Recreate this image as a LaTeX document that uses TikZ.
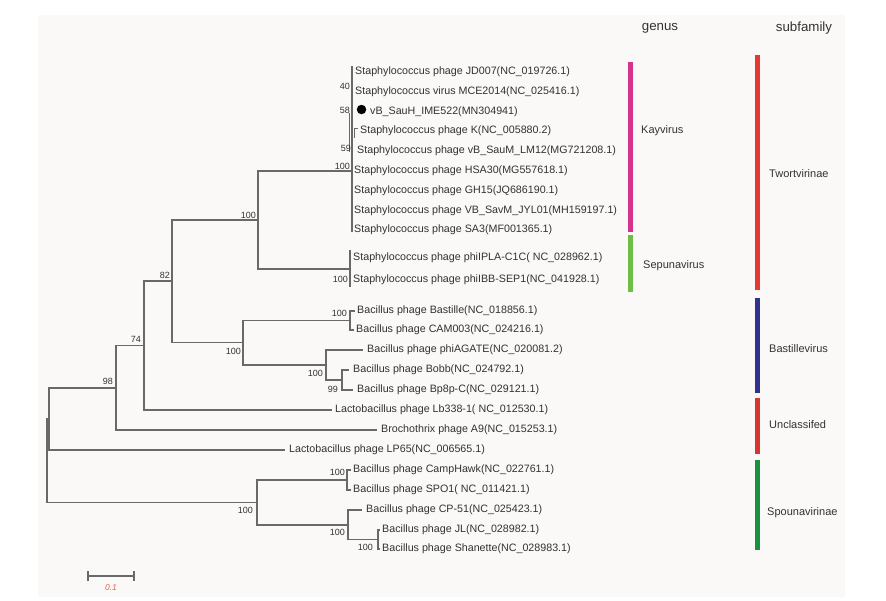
\documentclass[tikz,border=0pt]{standalone}
\usepackage{fontspec}
\setmainfont{Liberation Sans}
\definecolor{bgc}{RGB}{250,249,247}
\definecolor{linegray}{RGB}{105,105,105}
\definecolor{txt}{RGB}{50,50,50}
\definecolor{kaycol}{RGB}{214,52,140}
\definecolor{sepcol}{RGB}{110,190,70}
\definecolor{twocol}{RGB}{229,56,50}
\definecolor{bascol}{RGB}{48,50,140}
\definecolor{unccol}{RGB}{215,52,52}
\definecolor{spocol}{RGB}{24,145,65}
\definecolor{scalecol}{RGB}{232,100,60}
\tikzset{
  br/.style={draw=linegray, line width=1.1pt},
  leaf/.style={anchor=west, inner sep=0pt, text=txt, font=\fontsize{10.7}{12}\selectfont},
  bs/.style={anchor=east, inner sep=0pt, text=txt, font=\fontsize{9}{10}\selectfont},
  bar/.style={line width=5pt},
  clade/.style={anchor=west, inner sep=0pt, text=txt, font=\fontsize{11}{13}\selectfont},
  head/.style={inner sep=0pt, text=txt, font=\fontsize{13.3}{15}\selectfont}
}
\begin{document}
\begin{tikzpicture}[x=1pt,y=-1pt]
\useasboundingbox (0,0) rectangle (886,600);
\fill[bgc] (38,15) rectangle (845,597);

% internal nodes
\coordinate (root) at (47,461);
\coordinate (n49) at (49,419);
\coordinate (n116) at (116,388);
\coordinate (n144) at (144,345.5);
\coordinate (n172) at (172,281);
\coordinate (n258) at (258,220);
\coordinate (kay) at (352,171);
\coordinate (kayT) at (352,66);
\coordinate (kayB) at (352,232);
\coordinate (kx1) at (349.5,113);
\coordinate (kx2) at (349.5,152);
\coordinate (kk1) at (354.5,138);
\coordinate (kk2) at (354.5,128);
\coordinate (kk3) at (357.5,128);
\coordinate (sep) at (350,269);
\coordinate (sepT) at (350,250);
\coordinate (sepB) at (350,287);
\coordinate (n243) at (243,342.5);
\coordinate (bas) at (350,320.5);
\coordinate (n326) at (326,365);
\coordinate (n342) at (342,380);
\coordinate (n257) at (257,502.5);
\coordinate (n347) at (347,480);
\coordinate (n348) at (348,525);
\coordinate (n378) at (378,539.5);
% tips
\coordinate (t12) at (355,311);
\coordinate (t13) at (354,330);
\coordinate (t14) at (363,350);
\coordinate (t15) at (349,370);
\coordinate (t16) at (353,390);
\coordinate (t17) at (332,410);
\coordinate (t18) at (377,430);
\coordinate (t19) at (285,450);
\coordinate (t20) at (351,470);
\coordinate (t21) at (351,490);
\coordinate (t22) at (362,510);
\coordinate (t23) at (380,530);
\coordinate (t24) at (380,549);

% branches
\draw[br] (root) |- (n49);
\draw[br] (root) |- (n257);
\draw[br] (n49) |- (n116);
\draw[br] (n49) |- (t19);
\draw[br] (n116) |- (n144);
\draw[br] (n116) |- (t18);
\draw[br] (n144) |- (n172);
\draw[br] (n144) |- (t17);
\draw[br] (n172) |- (n258);
\draw[br] (n172) |- (n243);
\draw[br] (n258) |- (kay);
\draw[br] (n258) |- (sep);
\draw[br] (kayT) -- (kayB);
\draw[br] (kx1) -- (kx2);
\draw[br, line width=0.8pt] (kk1) -- (kk2) -- (kk3);
\draw[br] (sepT) -- (sepB);
\draw[br] (n243) |- (bas);
\draw[br] (n243) |- (n326);
\draw[br] (bas) |- (t12);
\draw[br] (bas) |- (t13);
\draw[br] (n326) |- (t14);
\draw[br] (n326) |- (n342);
\draw[br] (n342) |- (t15);
\draw[br] (n342) |- (t16);
\draw[br] (n257) |- (n347);
\draw[br] (n257) |- (n348);
\draw[br] (n347) |- (t20);
\draw[br] (n347) |- (t21);
\draw[br] (n348) |- (t22);
\draw[br] (n348) |- (n378);
\draw[br] (n378) |- (t23);
\draw[br] (n378) |- (t24);

% leaves
\node[leaf] (l1) at (355,72) {Staphylococcus phage JD007(NC\_019726.1)};
\node[leaf] (l2) at (355,92) {Staphylococcus virus MCE2014(NC\_025416.1)};
\node[circle, fill=black, minimum size=9.5pt, inner sep=0pt] (dot) at (361.5,109.5) {};
\node[leaf] (l3) at (370,112) {vB\_SauH\_IME522(MN304941)};
\node[leaf] (l4) at (360,131) {Staphylococcus phage K(NC\_005880.2)};
\node[leaf] (l5) at (357,151) {Staphylococcus phage vB\_SauM\_LM12(MG721208.1)};
\node[leaf] (l6) at (354,171) {Staphylococcus phage HSA30(MG557618.1)};
\node[leaf] (l7) at (354,191) {Staphylococcus phage GH15(JQ686190.1)};
\node[leaf] (l8) at (354,211) {Staphylococcus phage VB\_SavM\_JYL01(MH159197.1)};
\node[leaf] (l9) at (354,230) {Staphylococcus phage SA3(MF001365.1)};
\node[leaf] (l10) at (353,258) {Staphylococcus phage phiIPLA-C1C( NC\_028962.1)};
\node[leaf] (l11) at (353,280) {Staphylococcus phage phiIBB-SEP1(NC\_041928.1)};
\node[leaf] (l12) at (357,311) {Bacillus phage Bastille(NC\_018856.1)};
\node[leaf] (l13) at (356,330) {Bacillus phage CAM003(NC\_024216.1)};
\node[leaf] (l14) at (367,350) {Bacillus phage phiAGATE(NC\_020081.2)};
\node[leaf] (l15) at (353,370) {Bacillus phage Bobb(NC\_024792.1)};
\node[leaf] (l16) at (357,390) {Bacillus phage Bp8p-C(NC\_029121.1)};
\node[leaf] (l17) at (335,410) {Lactobacillus phage Lb338-1( NC\_012530.1)};
\node[leaf] (l18) at (381,430) {Brochothrix phage A9(NC\_015253.1)};
\node[leaf] (l19) at (289,450) {Lactobacillus phage LP65(NC\_006565.1)};
\node[leaf] (l20) at (353,470) {Bacillus phage CampHawk(NC\_022761.1)};
\node[leaf] (l21) at (353,490) {Bacillus phage SPO1( NC\_011421.1)};
\node[leaf] (l22) at (366,510) {Bacillus phage CP-51(NC\_025423.1)};
\node[leaf] (l23) at (382,530) {Bacillus phage JL(NC\_028982.1)};
\node[leaf] (l24) at (382,549) {Bacillus phage Shanette(NC\_028983.1)};

% bootstrap values
\node[bs] (b40) at (350,86) {40};
\node[bs] (b58) at (350,110) {58};
\node[bs] (b59) at (351,148) {59};
\node[bs] (bkay) at (350,166) {100};
\node[bs] (b258) at (256,215) {100};
\node[bs] (bsep) at (348,279) {100};
\node[bs] (b82) at (170,275) {82};
\node[bs] (b243) at (241,351) {100};
\node[bs] (bbas) at (347,313) {100};
\node[bs] (b326) at (323,373) {100};
\node[bs] (b99) at (338,389) {99};
\node[bs] (b74) at (141,339) {74};
\node[bs] (b98) at (113,381) {98};
\node[bs] (b257) at (253,510) {100};
\node[bs] (b347) at (345,472) {100};
\node[bs] (b348) at (345,532) {100};
\node[bs] (b378) at (373,547) {100};

% headers
\node[head] (hgenus) at (660,28) {genus};
\node[head] (hsub) at (804,28) {subfamily};

% bars
\coordinate (kb1) at (630,62);  \coordinate (kb2) at (630,232);
\coordinate (sb1) at (630,235); \coordinate (sb2) at (630,292);
\coordinate (tb1) at (757,55);  \coordinate (tb2) at (757,290);
\coordinate (bb1) at (757,298); \coordinate (bb2) at (757,393);
\coordinate (ub1) at (757,398); \coordinate (ub2) at (757,454);
\coordinate (pb1) at (757,460); \coordinate (pb2) at (757,550);
\draw[bar, kaycol] (kb1) -- (kb2);
\draw[bar, sepcol] (sb1) -- (sb2);
\draw[bar, twocol] (tb1) -- (tb2);
\draw[bar, bascol] (bb1) -- (bb2);
\draw[bar, unccol] (ub1) -- (ub2);
\draw[bar, spocol] (pb1) -- (pb2);

\node[clade] (ckay) at (641,131) {Kayvirus};
\node[clade] (csep) at (643,266) {Sepunavirus};
\node[clade] (ctwo) at (769,174) {Twortvirinae};
\node[clade] (cbas) at (769,349) {Bastillevirus};
\node[clade] (cunc) at (769,425) {Unclassifed};
\node[clade] (cspo) at (767,513) {Spounavirinae};

% scale bar
\coordinate (sL) at (88,576);
\coordinate (sR) at (134,576);
\coordinate (sL1) at (88,571); \coordinate (sL2) at (88,581);
\coordinate (sR1) at (134,571); \coordinate (sR2) at (134,581);
\draw[br] (sL) -- (sR);
\draw[br] (sL1) -- (sL2);
\draw[br] (sR1) -- (sR2);
\node[inner sep=0pt, text=scalecol, font=\fontsize{8.5}{10}\selectfont\itshape] (scl) at (111,588) {0.1};
\end{tikzpicture}
\end{document}
